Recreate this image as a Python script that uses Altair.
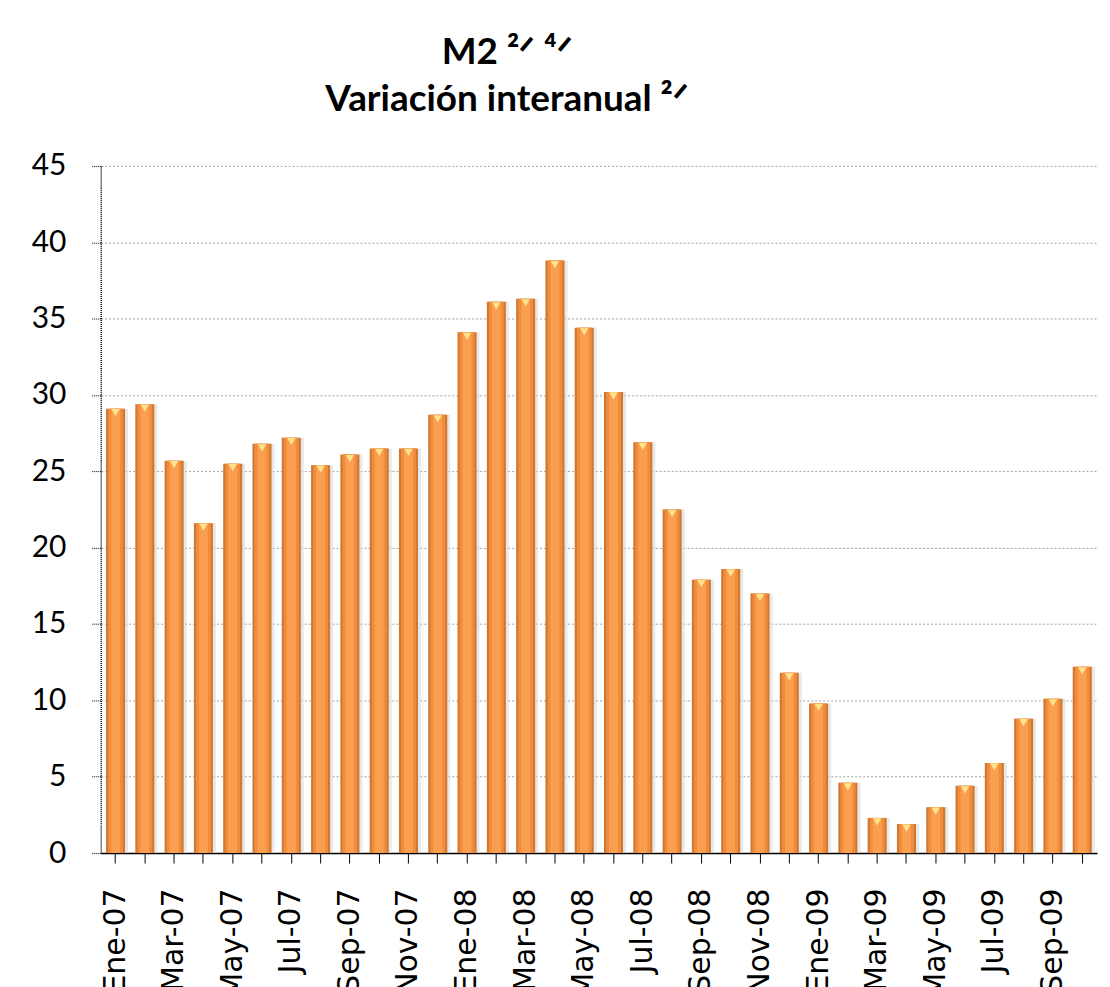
import altair as alt
import pandas as pd

months = ["Ene", "Feb", "Mar", "Abr", "May", "Jun", "Jul", "Ago", "Sep", "Oct", "Nov", "Dic"]
categories = ([f"{m}-07" for m in months] + [f"{m}-08" for m in months]
              + [f"{m}-09" for m in months[:10]])
values_2007 = [29.1, 29.4, 25.7, 21.6, 25.5, 26.8, 27.2, 25.4, 26.1, 26.5, 26.5, 28.7]
values_2008 = [34.1, 36.1, 36.3, 38.8, 34.4, 30.2, 26.9, 22.5, 17.9, 18.6, 17.0, 11.8]
values_2009 = [9.8, 4.6, 2.3, 1.9, 3.0, 4.4, 5.9, 8.8, 10.1, 12.2]
values = values_2007 + values_2008 + values_2009
y_ticks = [0, 5, 10, 15, 20, 25, 30, 35, 40, 45]
shown_labels = ["Ene", "Mar", "May", "Jul", "Sep", "Nov"]

df = pd.DataFrame({"mes": categories, "valor": values})

x_enc = alt.X(
    "mes:N", sort=None, title=None,
    scale=alt.Scale(paddingInner=0.35, paddingOuter=0.18),
    axis=alt.Axis(
        labelAngle=-90, labelFont="DejaVu Sans", labelFontSize=30, labelColor="#000000",
        labelPadding=25, tickSize=10, tickColor="#000000",
        domainColor="#000000", domainWidth=1.5, grid=False,
        labelExpr="indexof(" + str(shown_labels) + ", slice(datum.value, 0, 3)) >= 0 ? datum.value : ''",
    ),
)
y_enc = alt.Y(
    "valor:Q", title=None,
    scale=alt.Scale(domain=[0, 45], nice=False),
    axis=alt.Axis(
        values=y_ticks, labelFont="Lato", labelFontSize=30, labelColor="#000000",
        labelPadding=25, tickSize=10, tickColor="#000000", tickDash=[1, 1],
        domainColor="#000000", domainWidth=1.5, domainDash=[1, 1],
        grid=True, gridColor="#a0a0a0", gridWidth=1, gridDash=[2, 2],
    ),
)

base = alt.Chart(df)

shadow = base.mark_bar(color="#d9d9d9", opacity=0.6, xOffset=3).encode(x=x_enc, y=y_enc)
bar_edge = base.mark_bar(color="#cf7832").encode(x=x_enc, y=y_enc)
bar_mid = base.mark_bar(color="#f08c3c", width=15).encode(x=x_enc, y=y_enc)
bar_core = base.mark_bar(color="#fa9e50", width=9).encode(x=x_enc, y=y_enc)
caps = base.mark_point(
    shape="triangle-down", filled=True, color="#ffe28c", opacity=1,
    size=70, yOffset=4, strokeWidth=0,
).encode(x=x_enc, y=y_enc)

chart = alt.layer(shadow, bar_edge, bar_mid, bar_core, caps).properties(
    width=999, height=689,
    padding={"left": 23, "top": 25, "right": 5, "bottom": 5},
    title=alt.TitleParams(
        text=["M2  ²ᐟ ⁴ᐟ", "Variación interanual ²ᐟ"],
        font="Lato", fontSize=37, fontWeight="bold", color="#000000",
        anchor="middle", dx=-92, offset=32, lineHeight=47,
    ),
).configure_view(strokeWidth=0)

chart.save("out.html", embed_options={"renderer": "svg", "actions": False})
